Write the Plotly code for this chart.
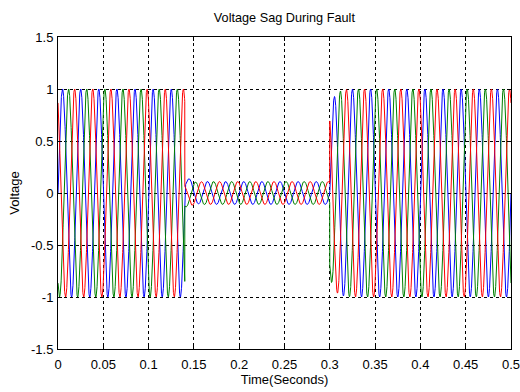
import numpy as np
import plotly.graph_objects as go

# ---- data ----
freq_hz = 50.0
phase_names = ["Va", "Vb", "Vc"]
phase_colors = ["#0000ff", "#008000", "#ff0000"]
phase_shift_deg = [0.0, -120.0, 120.0]
segment_start = [0.0, 0.14, 0.30]          # pre-fault, fault, post-fault
segment_amplitude = [1.0, 0.11, 1.0]
fault_dc_offset = [0.06, -0.03, -0.03]      # small transient at fault inception
recovery_start_amp = 0.8                    # first half-cycle after clearing
x_tick_vals = [0, 0.05, 0.1, 0.15, 0.2, 0.25, 0.3, 0.35, 0.4, 0.45, 0.5]
x_tick_text = ["0", "0.05", "0.1", "0.15", "0.2", "0.25", "0.3", "0.35", "0.4", "0.45", "0.5"]
y_tick_vals = [-1.5, -1, -0.5, 0, 0.5, 1, 1.5]
y_tick_text = ["-1.5", "-1", "-0.5", "0", "0.5", "1", "1.5"]

t = np.arange(0, 0.5 + 1e-9, 1e-4)

def envelope(tt):
    amp = np.zeros_like(tt)
    for i, s in enumerate(segment_start):
        amp[tt >= s] = segment_amplitude[i]
    post = tt >= segment_start[2]
    amp[post] = 1.0 - (1.0 - recovery_start_amp) * np.exp(-(tt[post] - segment_start[2]) / 0.005)
    return amp

fig = go.Figure()
env = envelope(t)
for k in range(3):
    v = env * np.sin(2 * np.pi * freq_hz * t + np.deg2rad(phase_shift_deg[k]))
    fault = (t >= segment_start[1]) & (t < segment_start[2])
    v[fault] += fault_dc_offset[k] * np.exp(-(t[fault] - segment_start[1]) / 0.006)
    fig.add_trace(go.Scatter(x=t, y=v, mode="lines", name=phase_names[k],
                             line=dict(color=phase_colors[k], width=1)))

FONT = "Liberation Sans, Arial, sans-serif"
axis_font = dict(family=FONT, size=13, color="black")
common = dict(showline=True, linecolor="black", linewidth=1, mirror="ticks",
              ticks="inside", ticklen=4, tickcolor="black",
              showgrid=True, gridcolor="black", gridwidth=1, griddash="3px,3px",
              zeroline=False, tickfont=axis_font, automargin=False,
              ticklabeloverflow="allow")

fig.update_layout(
    width=520, height=392,
    margin=dict(l=58, r=9, t=37, b=43),
    paper_bgcolor="white", plot_bgcolor="white",
    showlegend=False,
    title=dict(text="Voltage Sag During Fault", x=0.5469, xanchor="center",
               y=1 - 18 / 392, yanchor="middle",
               font=dict(family=FONT, size=12.7, color="black")),
    xaxis=dict(range=[0, 0.5], tickvals=x_tick_vals, ticktext=x_tick_text,
               ticklabelstandoff=3,
               title=dict(text="Time(Seconds)", font=axis_font, standoff=4), **common),
    yaxis=dict(range=[-1.5, 1.5], tickvals=y_tick_vals, ticktext=y_tick_text,
               ticklabelstandoff=1,
               title=dict(text="Voltage", font=axis_font, standoff=8), **common),
)

fig.write_html("out.html")
